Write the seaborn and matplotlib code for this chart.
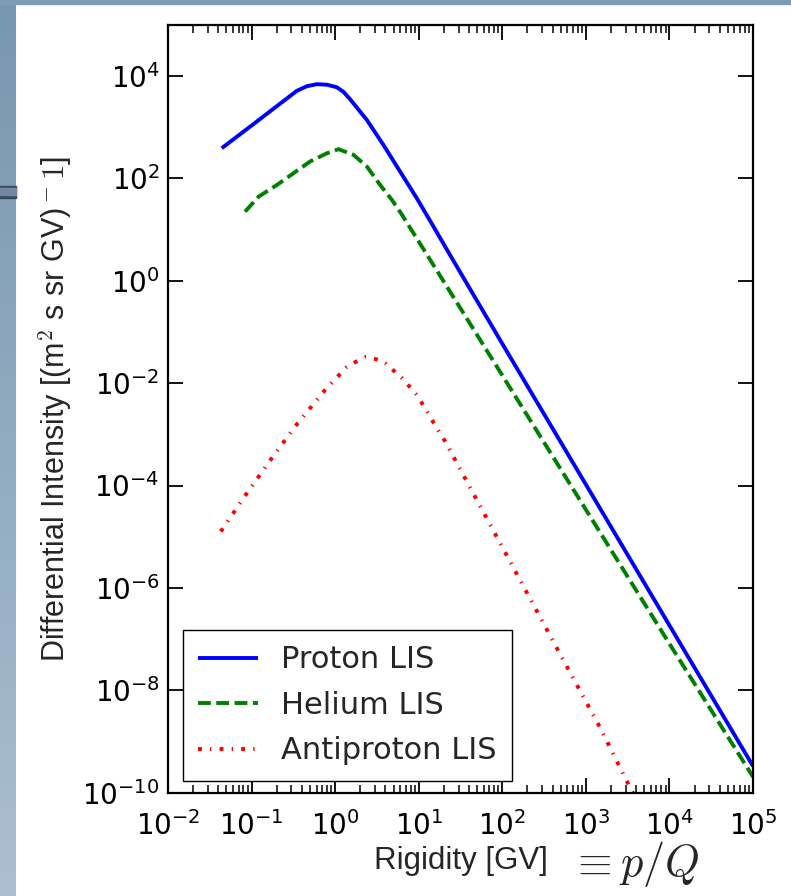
import numpy as np
import pandas as pd
import matplotlib
matplotlib.use("Agg")
import matplotlib.pyplot as plt
from matplotlib.patches import Rectangle
from matplotlib.ticker import LogLocator, NullLocator, NullFormatter
import seaborn as sns

# ---------------- data ----------------
series_names = ["Proton LIS", "Helium LIS", "Antiproton LIS"]
series_colors = ["#0000ff", "#008000", "#ff0000"]

proton_R = [0.0440, 0.1052, 0.264, 0.348, 0.458, 0.604, 0.796, 1.047, 1.259,
            1.514, 2.399, 3.793, 6.0, 9.51, 15.0, 22.8, 100, 1000, 1e4, 1e5]
proton_I = [389, 1148, 3631, 5129, 6310, 6918, 6761, 6026, 4898,
            3500, 1380, 447, 135, 40.7, 11.5, 3.55, 0.0589, 1.05e-4, 1.86e-7, 3.31e-10]

helium_R = [0.0836, 0.1208, 0.2004, 0.317, 0.502, 0.796, 1.096, 1.66, 2.40,
            3.46, 4.78, 6.30, 8.28, 13.7, 100, 1000, 1e4, 1e5]
helium_I = [22.4, 43.7, 74.1, 126, 214, 309, 372, 288, 170,
            74.1, 38.0, 19.5, 9.55, 2.57, 0.0142, 3.39e-5, 8.13e-8, 2.04e-10]

antiproton_R = [0.0428, 0.0836, 0.1667, 0.338, 0.724, 1.343, 1.738, 2.333, 3.069,
                4.046, 6.295, 9.506, 12.88, 15.03, 17.58, 20.75, 472, 1493, 3350, 5012]
antiproton_I = [1.26e-5, 6.31e-5, 3.09e-4, 1.48e-3, 6.76e-3, 0.0200, 0.0257, 0.0324, 0.0295,
                0.0240, 0.0126, 5.89e-3, 2.63e-3, 1.70e-3, 1.12e-3, 7.24e-4, 5.75e-8,
                1.82e-9, 1.29e-10, 3.98e-11]

x_ticks = [1e-2, 1e-1, 1e0, 1e1, 1e2, 1e3, 1e4, 1e5]
y_ticks = [1e-10, 1e-8, 1e-6, 1e-4, 1e-2, 1e0, 1e2, 1e4]

# ---------------- style ----------------
sns.set_style("ticks")
plt.rcParams["font.family"] = ["DejaVu Sans"]
plt.rcParams["mathtext.fontset"] = "dejavusans"

W, H = 791, 896
fig = plt.figure(figsize=(W / 100, H / 100), dpi=100)
fig.patch.set_facecolor("white")

# screenshot frame: blue-gray strips at top and left
bg = fig.add_axes([0, 0, 16 / W, 1])
grad = np.linspace(0, 1, 256)[:, None, None]
top_c = np.array([0.47, 0.59, 0.69])
bot_c = np.array([0.67, 0.75, 0.82])
bg.imshow(top_c * (1 - grad) + bot_c * grad, aspect="auto", extent=[0, 1, 1, 0])
bg.axis("off")
fig.patches.append(Rectangle((0, 1 - 4 / H), 1, 4 / H, transform=fig.transFigure,
                             color="#7d9bb4", zorder=5))
fig.patches.append(Rectangle((0, 1 - 198 / H), 16 / W, 12 / H, transform=fig.transFigure,
                             color="#3c4a5e", zorder=5))
fig.patches.append(Rectangle((0, 1 - 195 / H), 16 / W, 7 / H, transform=fig.transFigure,
                             color="#7288a5", zorder=6))

ax_w_px, ax_h_px = 753 - 168, 792.7 - 24.8
ax = fig.add_axes([168 / W, 1 - 792.7 / H, ax_w_px / W, ax_h_px / H])

lw = 2.8
styles = [(0, ()), (0, (3.3, 1.4)), (0, (1.0, 2.1, 0.35, 2.1))]
data_sets = [(proton_R, proton_I), (helium_R, helium_I), (antiproton_R, antiproton_I)]
for name, col, ls, (r, i) in zip(series_names, series_colors, styles, data_sets):
    df = pd.DataFrame({"R": r, "I": i})
    sns.lineplot(data=df, x="R", y="I", ax=ax, color=col, linewidth=lw,
                 linestyle=ls, label=name, estimator=None, sort=False)

ax.set_xscale("log")
ax.set_yscale("log")
ax.set_xlim(1e-2, 1e5)
ax.set_ylim(1e-10, 1e5)
ax.set_xticks(x_ticks)
ax.set_yticks(y_ticks)
ax.xaxis.set_minor_locator(LogLocator(base=10, subs=np.arange(2, 10), numticks=50))
ax.xaxis.set_minor_formatter(NullFormatter())
ax.yaxis.set_minor_locator(NullLocator())

ax.tick_params(which="both", direction="in", top=True, right=True, colors="black")
ax.tick_params(which="major", length=11, width=1.3, labelsize=20)
ax.tick_params(which="minor", length=5.5, width=1.1)
ax.tick_params(axis="x", which="major", pad=13)
ax.tick_params(axis="y", which="major", pad=6)
for s in ax.spines.values():
    s.set_linewidth(1.6)
    s.set_color("black")
    s.set_visible(True)

ax.set_xlabel("Rigidity [GV]", fontsize=22.5, family="Liberation Sans", labelpad=4)
ax.set_ylabel("Differential Intensity [(m$^2$ s sr GV)$^-1$]", fontsize=22,
              family="Liberation Sans", math_fontfamily="cm")
ax.yaxis.set_label_coords(-0.161, 0.5)

fig.text(570 / W, 1 - 876 / H, r"$\equiv p/Q$", fontsize=32, math_fontfamily="cm",
         ha="left", va="baseline")

leg = ax.legend(loc="lower left", bbox_to_anchor=(15 / ax_w_px, 12 / ax_h_px),
                fontsize=22, handlelength=1.97, handletextpad=0.75,
                labelspacing=0.54, borderaxespad=0, borderpad=0.5,
                fancybox=False, edgecolor="black", framealpha=1)
leg.get_frame().set_linewidth(1.0)

fig.savefig("out.png", dpi=100)
